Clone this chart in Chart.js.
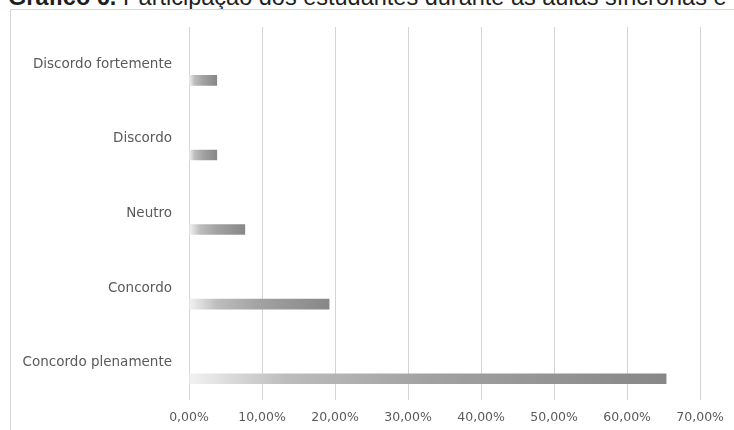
<!DOCTYPE html>
<html>
<head>
<meta charset="utf-8">
<script src="https://cdn.jsdelivr.net/npm/chart.js@4/dist/chart.umd.min.js"></script>
<style>
    html, body {
        margin: 0;
        padding: 0;
        background: #ffffff;
        width: 734px;
        height: 430px;
        overflow: hidden;
        position: relative;
    }

    #title {
        position: absolute;
        left: 8px;
        top: -14px;
        font-family: "Liberation Sans", Arial, sans-serif;
        font-size: 23.5px;
        line-height: 23.5px;
        color: #1e1e1e;
        white-space: nowrap;
    }

    #frame {
        position: absolute;
        left: 10px;
        top: 9px;
        width: 760px;
        height: 460px;
        border: 1px solid #d6d6d6;
    }

    #wrap {
        position: absolute;
        left: 0;
        top: 0;
        width: 734px;
        height: 430px;
    }
</style>
</head>
<body>

<div id="title"><b>Gráfico 6.</b> Participação dos estudantes durante as aulas síncronas e</div>
<div id="frame"></div>
<div id="wrap"><canvas id="barChart"></canvas></div>

<script>
const categories = [
    "Discordo fortemente",
    "Discordo",
    "Neutro",
    "Concordo",
    "Concordo plenamente"
];

// percentage of students
const percentValues = [3.85, 3.85, 7.69, 19.23, 65.38];

// x axis ticks (percent)
const tickMin = 0;
const tickMax = 70;
const tickStep = 10;

function formatPercent(value)
{
    return value.toFixed(2).replace(".", ",") + "%";
}

// gradient along each bar, light at the start, dark at the end
function barGradient(context)
{
    const chart = context.chart;
    const xScale = chart.scales.x;

    if(!chart.chartArea || !xScale || context.raw == null)
    {
        return "#9a9a9a";
    }

    const x0 = xScale.getPixelForValue(0);
    const x1 = xScale.getPixelForValue(context.raw);

    const gradient =
        chart.ctx.createLinearGradient(x0, 0, x1, 0);

    gradient.addColorStop(0, "#f2f2f2");
    gradient.addColorStop(0.2, "#bdbdbd");
    gradient.addColorStop(0.5, "#a2a2a2");
    gradient.addColorStop(1, "#878787");

    return gradient;
}

document.addEventListener("DOMContentLoaded", () => {

    const ctx =
        document
            .getElementById("barChart")
            .getContext("2d");

    new Chart(ctx, {

        type: "bar",

        data: {

            labels: categories,

            datasets: [
                {
                    // empty series, keeps the upper slot of each category free
                    label: "",
                    data: categories.map(() => null),
                    backgroundColor: "rgba(0,0,0,0)",
                    categoryPercentage: 0.86,
                    barPercentage: 0.33
                },
                {
                    label: "Participação",
                    data: percentValues,
                    backgroundColor: barGradient,
                    borderWidth: 0,
                    categoryPercentage: 0.86,
                    barPercentage: 0.33
                }
            ]
        },

        options: {

            indexAxis: "y",
            responsive: true,
            maintainAspectRatio: false,
            animation: false,

            layout: {
                padding: {
                    top: 27,
                    right: 32,
                    left: 0,
                    bottom: 0
                }
            },

            plugins: {
                legend: { display: false },
                tooltip: { enabled: false }
            },

            scales: {

                x: {
                    min: tickMin,
                    max: tickMax,
                    grid: {
                        color: "#d4d4d4",
                        lineWidth: 1,
                        drawTicks: false
                    },
                    border: { display: false },
                    ticks: {
                        stepSize: tickStep,
                        padding: 10,
                        color: "#5a5a5a",
                        font: {
                            family: "DejaVu Sans",
                            size: 12.5
                        },
                        callback: value => formatPercent(value)
                    },
                    afterFit: scale => {
                        scale.height = 30;
                    }
                },

                y: {
                    grid: {
                        display: false,
                        drawTicks: false
                    },
                    border: { display: false },
                    ticks: {
                        padding: 17,
                        color: "#5a5a5a",
                        font: {
                            family: "DejaVu Sans",
                            size: 13.5
                        }
                    },
                    afterFit: scale => {
                        scale.width = 189;
                    }
                }
            }
        }
    });
});
</script>
</body>
</html>
